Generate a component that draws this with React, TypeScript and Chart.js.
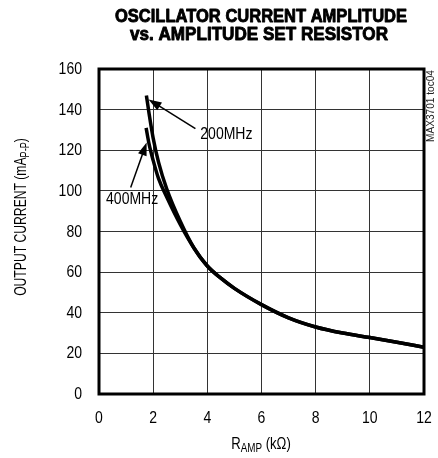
import React, { useEffect, useRef } from "react";
import { Chart, registerables } from "chart.js";

Chart.register(...registerables);

const TITLE_LINES = ["OSCILLATOR CURRENT AMPLITUDE", "vs. AMPLITUDE SET RESISTOR"];
const X_TICKS = [0, 2, 4, 6, 8, 10, 12];
const Y_TICKS = [0, 20, 40, 60, 80, 100, 120, 140, 160];

const R200_X = [1.75, 1.85, 2.0, 2.2, 2.5, 3.0, 3.5, 4.0, 4.5, 5.0, 6.0, 7.0, 8.0, 9.0, 10.0, 11.0, 12.0];
const R200_Y = [147, 138, 126, 114, 101, 85, 72, 63, 57, 52, 44, 37.5, 33, 30, 27.8, 25.5, 23];
const R400_X = [1.74, 1.85, 2.0, 2.2, 2.5, 3.0, 3.5, 4.0, 4.5, 5.0, 6.0, 7.0, 8.0, 9.0, 10.0, 11.0, 12.0];
const R400_Y = [131, 123, 115, 106, 97, 83.5, 72, 63, 57, 52, 44, 37.5, 33, 30, 27.8, 25.5, 23];

const FONT = "'Liberation Sans', Arial, sans-serif";
const SX = 0.85;

export default function App() {
  const ref = useRef<HTMLCanvasElement>(null);
  useEffect(() => {
    if (!ref.current) return;
    const pts = (xs: number[], ys: number[]) => xs.map((x, i) => ({ x, y: ys[i] }));

    const framePlugin = {
      id: "frame",
      beforeDatasetsDraw(chart: any) {
        const ctx = chart.ctx as CanvasRenderingContext2D;
        const ca = chart.chartArea;
        ctx.save();
        ctx.strokeStyle = "#000";
        ctx.lineWidth = 3;
        ctx.strokeRect(ca.left, ca.top, ca.right - ca.left, ca.bottom - ca.top);
        ctx.restore();
      },
    };

    const textPlugin = {
      id: "texts",
      afterDraw(chart: any) {
        const ctx = chart.ctx as CanvasRenderingContext2D;
        const xs = chart.scales.x;
        const ys = chart.scales.y;
        ctx.save();
        ctx.fillStyle = "#000";
        ctx.strokeStyle = "#000";

        const txt = (
          t: string, x: number, y: number, size: number,
          align: "left" | "center" | "right", sx: number = SX,
          bold = false, baseline: CanvasTextBaseline = "middle", targetW?: number
        ) => {
          ctx.save();
          ctx.font = `${bold ? "bold " : ""}${size}px ${FONT}`;
          const w = ctx.measureText(t).width;
          const s = targetW ? targetW / w : sx;
          const sw = w * s;
          let left = x;
          if (align === "center") left = x - sw / 2;
          else if (align === "right") left = x - sw;
          ctx.translate(left, y);
          ctx.scale(s, 1);
          ctx.textAlign = "left";
          ctx.textBaseline = baseline;
          ctx.fillText(t, 0, 0);
          if (bold) {
            ctx.lineWidth = 0.9;
            ctx.lineJoin = "round";
            ctx.strokeText(t, 0, 0);
          }
          ctx.restore();
        };

        // Title
        txt(TITLE_LINES[0], 261, 17, 18, "center", SX, true, "middle", 292);
        txt(TITLE_LINES[1], 259, 35, 18, "center", SX, true, "middle", 258);

        // tick labels
        for (const v of X_TICKS) {
          txt(String(v), xs.getPixelForValue(v), 418, 16.5, "center");
        }
        for (const v of Y_TICKS) {
          txt(String(v), 82, ys.getPixelForValue(v) + 0.5, 16.5, "right");
        }

        // arrows
        const arrow = (x1: number, y1: number, x2: number, y2: number) => {
          const ax = xs.getPixelForValue(x1), ay = ys.getPixelForValue(y1);
          const bx = xs.getPixelForValue(x2), by = ys.getPixelForValue(y2);
          const ang = Math.atan2(by - ay, bx - ax);
          const L = 13, W = 4.5;
          ctx.lineWidth = 1.5;
          ctx.beginPath();
          ctx.moveTo(ax, ay);
          ctx.lineTo(bx - Math.cos(ang) * L * 0.8, by - Math.sin(ang) * L * 0.8);
          ctx.stroke();
          ctx.beginPath();
          ctx.moveTo(bx, by);
          ctx.lineTo(bx - Math.cos(ang) * L - Math.sin(ang) * W, by - Math.sin(ang) * L + Math.cos(ang) * W);
          ctx.lineTo(bx - Math.cos(ang) * L + Math.sin(ang) * W, by - Math.sin(ang) * L - Math.cos(ang) * W);
          ctx.closePath();
          ctx.fill();
        };
        arrow(3.56, 130.7, 1.83, 145);
        arrow(1.17, 101.7, 1.76, 123.8);

        txt("200MHz", xs.getPixelForValue(3.74), ys.getPixelForValue(127.8), 16.5, "left");
        txt("400MHz", xs.getPixelForValue(0.26), ys.getPixelForValue(95.8), 16.5, "left");

        const drawSub = (parts: [string, boolean][], x: number, y: number, sx: number) => {
          let total = 0;
          for (const [t, sub] of parts) {
            ctx.font = sub ? `12px ${FONT}` : `16px ${FONT}`;
            total += ctx.measureText(t).width;
          }
          ctx.save();
          ctx.translate(x - (total * sx) / 2, y);
          ctx.scale(sx, 1);
          let px = 0;
          ctx.textAlign = "left";
          ctx.textBaseline = "alphabetic";
          for (const [t, sub] of parts) {
            ctx.font = sub ? `12px ${FONT}` : `16px ${FONT}`;
            ctx.fillText(t, px, sub ? 3 : 0);
            px += ctx.measureText(t).width;
          }
          ctx.restore();
        };
        drawSub([["R", false], ["AMP", true], [" (kΩ)", false]], 261, 449, 0.82);

        ctx.save();
        ctx.translate(26, 217);
        ctx.rotate(-Math.PI / 2);
        drawSub([["OUTPUT CURRENT (mA", false], ["P-P", true], [")", false]], 0, 0, 0.76);
        ctx.restore();

        ctx.save();
        ctx.translate(436, 106);
        ctx.rotate(-Math.PI / 2);
        ctx.fillStyle = "#222";
        txt("MAX3701 toc04", 0, 0, 10, "center", 0.8, false, "bottom", 72);
        ctx.restore();

        ctx.restore();
      },
    };

    const chart = new Chart(ref.current, {
      type: "scatter",
      data: {
        datasets: [
          {
            label: "200MHz",
            data: pts(R200_X, R200_Y),
            showLine: true,
            borderColor: "#000",
            borderWidth: 3.5,
            pointRadius: 0,
            cubicInterpolationMode: "monotone",
          },
          {
            label: "400MHz",
            data: pts(R400_X, R400_Y),
            showLine: true,
            borderColor: "#000",
            borderWidth: 3.5,
            pointRadius: 0,
            cubicInterpolationMode: "monotone",
          },
        ],
      },
      options: {
        responsive: false,
        animation: false,
        layout: { padding: { left: 0, top: 69, right: 14, bottom: 0 } },
        plugins: { legend: { display: false }, tooltip: { enabled: false }, title: { display: false } },
        scales: {
          x: {
            type: "linear",
            min: 0,
            max: 12,
            afterFit: (s: any) => { s.height = 64; },
            afterBuildTicks: (s: any) => { s.ticks = X_TICKS.map((v) => ({ value: v })); },
            border: { display: false },
            grid: { color: "#333", lineWidth: 1, drawTicks: false },
            ticks: { display: false },
          },
          y: {
            type: "linear",
            min: 0,
            max: 160,
            afterFit: (s: any) => { s.width = 99; },
            afterBuildTicks: (s: any) => { s.ticks = Y_TICKS.map((v) => ({ value: v })); },
            border: { display: false },
            grid: { color: "#333", lineWidth: 1, drawTicks: false },
            ticks: { display: false },
          },
        },
      },
      plugins: [framePlugin, textPlugin],
    } as any);
    return () => chart.destroy();
  }, []);

  return (
    <div style={{ position: "fixed", left: 0, top: 0, width: 438, height: 458, background: "#fff" }}>
      <canvas ref={ref} width={438} height={458} style={{ width: 438, height: 458 }} />
    </div>
  );
}
